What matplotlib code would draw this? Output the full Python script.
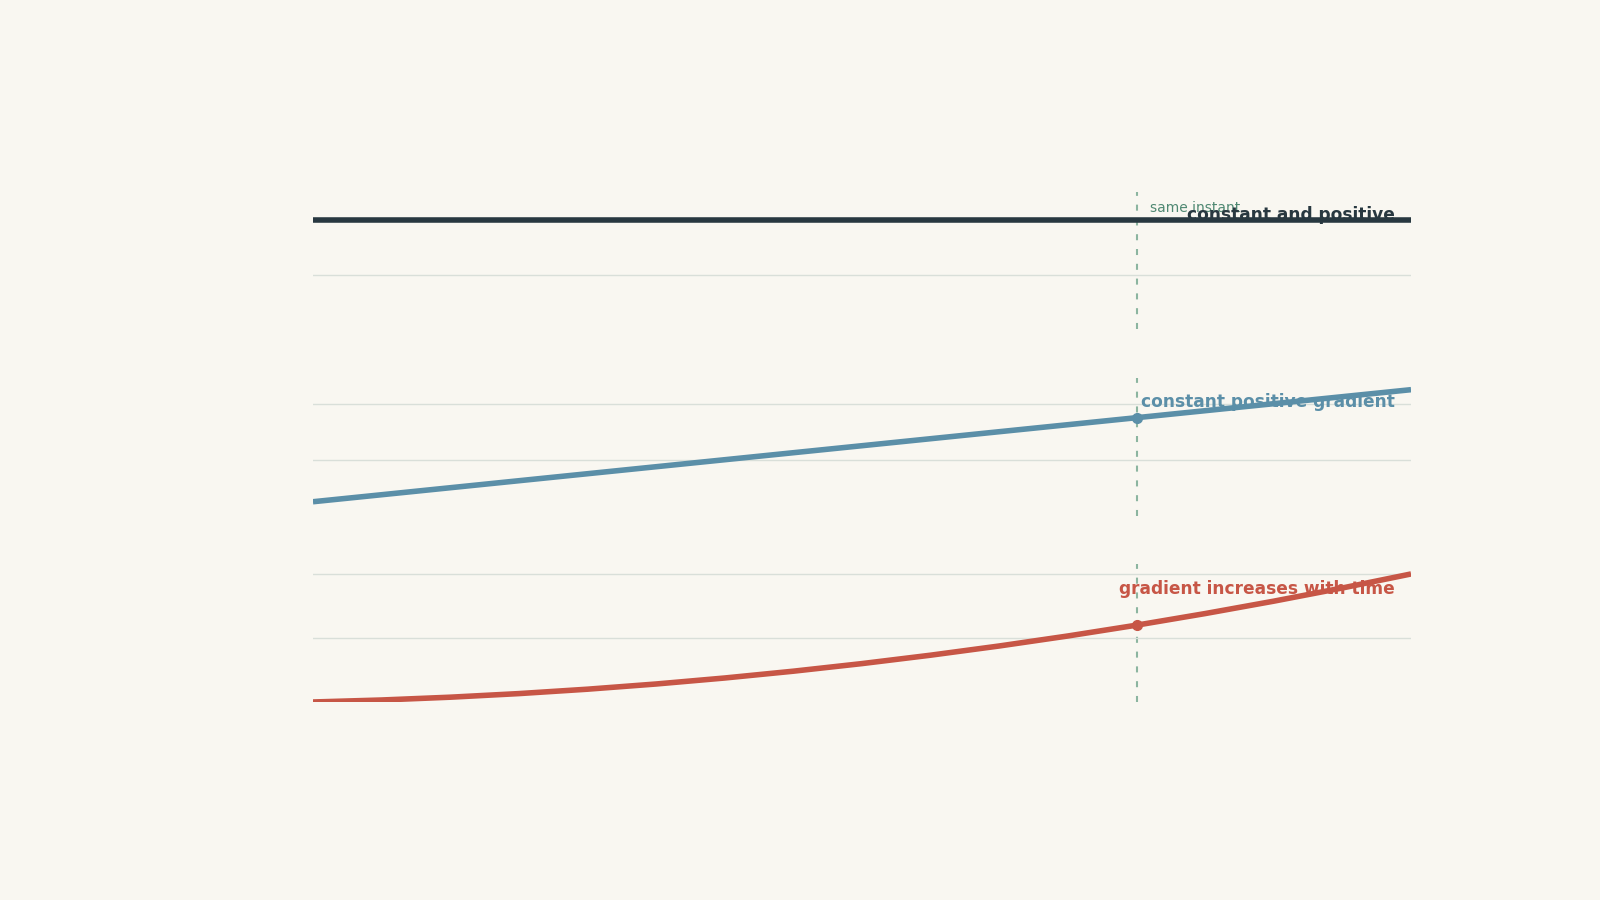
import matplotlib
matplotlib.use("Agg")
import matplotlib.pyplot as plt

# ---- data ----
t_const = [0, 4]
accel = [2, 2]

t_lin = [0, 1, 2, 3, 4]
velocity = [1, 3, 5, 7, 9]

t_quad = [0, 0.25, 0.5, 0.75, 1, 1.25, 1.5, 1.75, 2, 2.25, 2.5, 2.75, 3,
          3.25, 3.5, 3.75, 4]
displacement = [0, 0.3125, 0.75, 1.3125, 2, 2.8125, 3.75, 4.8125, 6, 7.3125,
                8.75, 10.3125, 12, 13.8125, 15.75, 17.8125, 20]

instant = 3
labels = ["constant and positive", "constant positive gradient",
          "gradient increases with time"]
instant_label = "same instant"

BG = "#f9f7f1"
C_DARK = "#283840"
C_BLUE = "#5b8fa8"
C_RED = "#c75646"
C_VLINE = "#8cb5a0"
C_VTEXT = "#4f8872"
C_GRID = "#d9dfd9"

fig = plt.figure(figsize=(16, 9), dpi=100, facecolor=BG)
gs = fig.add_gridspec(3, 1, left=0.1956, right=0.8819, top=0.7872,
                      bottom=0.22, hspace=0.35)
axes = [fig.add_subplot(gs[i]) for i in range(3)]

series = [
    (t_const, accel, C_DARK, (0, 2.52), [1, 2], labels[0], 0.797, False),
    (t_lin, velocity, C_BLUE, (0, 9.85), [4, 8], labels[1], 0.788, True),
    (t_quad, displacement, C_RED, (0, 21.55), [10, 20], labels[2], 0.783, True),
]

for ax, (tx, ys, col, ylim, yt, lab, ly, mark) in zip(axes, series):
    ax.set_facecolor(BG)
    ax.set_xlim(0, 4)
    ax.set_ylim(*ylim)
    ax.set_yticks(yt)
    ax.set_xticks([])
    ax.grid(axis="y", color=C_GRID, linewidth=1.0, zorder=0)
    ax.tick_params(left=False, labelleft=False, bottom=False, labelbottom=False)
    for s in ax.spines.values():
        s.set_visible(False)
    ax.axvline(instant, color=C_VLINE, linewidth=1.5, linestyle=(0, (2.9, 4.2)),
               zorder=1)
    ax.plot(tx, ys, color=col, linewidth=4, solid_capstyle="butt", zorder=3)
    if mark:
        idx = tx.index(instant)
        ax.plot([instant], [ys[idx]], "o", color=col, markersize=7, zorder=4)
    ax.text(0.985, ly, lab, transform=ax.transAxes, ha="right", va="baseline",
            fontsize=12.25, fontweight="bold", color=col, zorder=5)

axes[0].annotate(instant_label, xy=(instant, 0.848),
                 xycoords=("data", "axes fraction"),
                 xytext=(10, 0), textcoords="offset points", ha="left",
                 va="baseline", fontsize=10, color=C_VTEXT,
                 annotation_clip=False)

fig.savefig("out.png", dpi=100, facecolor=BG)
